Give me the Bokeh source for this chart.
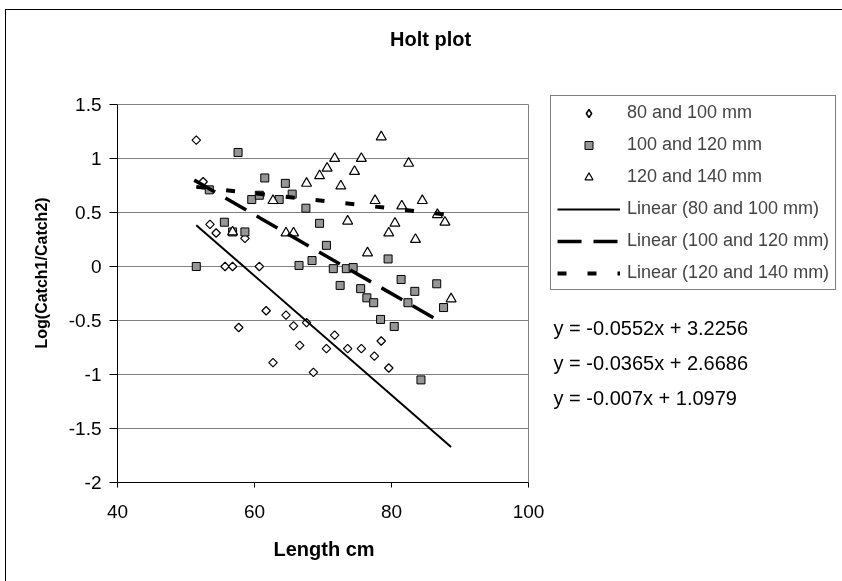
import numpy as np
from bokeh.plotting import figure
from bokeh.models import (Range1d, FixedTicker, CustomJSTickFormatter, Legend,
                          LegendItem, Label, Title)
from bokeh.embed import file_html
from bokeh.resources import INLINE

# ---------------- data ----------------
series_labels = ["80 and 100 mm", "100 and 120 mm", "120 and 140 mm"]

len_80_100 = [51.5, 52.5, 53.5, 54.4, 55.7, 56.8, 58.6, 60.7, 57.7, 61.7, 62.7,
              64.6, 65.7, 66.6, 67.6, 68.6, 70.5, 71.7, 73.6, 75.6, 77.5, 78.5, 79.6]
log_80_100 = [1.17, 0.785, 0.39, 0.31, 0.0, 0.0, 0.26, 0.0, -0.565, -0.41, -0.89,
              -0.45, -0.55, -0.73, -0.52, -0.98, -0.76, -0.635, -0.76, -0.76, -0.83, -0.69, -0.94]

len_100_120 = [51.5, 53.4, 55.6, 56.8, 57.6, 58.6, 59.6, 60.7, 61.5, 63.6, 64.5,
               65.5, 66.5, 67.5, 68.4, 69.5, 70.5, 71.5, 72.5, 73.4, 74.4, 75.5,
               76.4, 77.4, 78.4, 79.5, 80.4, 81.4, 82.4, 83.4, 84.3, 86.6, 87.6]
log_100_120 = [0.0, 0.71, 0.41, 0.32, 1.056, 0.32, 0.62, 0.66, 0.82, 0.62, 0.77,
               0.67, 0.01, 0.54, 0.055, 0.40, 0.196, -0.02, -0.175, -0.02, -0.01, -0.205,
               -0.29, -0.335, -0.49, 0.07, -0.555, -0.12, -0.335, -0.23, -1.05, -0.16, -0.38]

len_120_140 = [56.8, 62.7, 64.6, 65.7, 67.6, 69.5, 70.6, 71.7, 72.6, 73.6, 74.6, 75.6,
               76.5, 77.6, 78.5, 79.6, 80.5, 81.5, 82.5, 83.5, 84.5, 86.7, 87.8, 88.7]
log_120_140 = [0.32, 0.61, 0.31, 0.31, 0.77, 0.84, 0.91, 1.0, 0.745, 0.42, 0.88, 1.0,
               0.126, 0.61, 1.2, 0.31, 0.40, 0.56, 0.955, 0.25, 0.61, 0.48, 0.41, -0.30]

# linear trendlines as printed on the chart
slopes = [-0.0552, -0.0365, -0.007]
intercepts = [3.2256, 2.6686, 1.0979]
trend_x_start = [51.5, 51.2, 51.5]
trend_x_end = [88.7, 87.6, 88.2]
equation_texts = ["y = -0.0552x + 3.2256", "y = -0.0365x + 2.6686", "y = -0.007x + 1.0979"]

x_ticks = [40, 60, 80, 100]
y_ticks = [-2, -1.5, -1, -0.5, 0, 0.5, 1, 1.5]
x_lo, x_hi = 40, 100
y_lo, y_hi = -2, 1.5

FONT = "Liberation Sans"

# The frame extends beyond the plot area (to the right and above) so that the
# legend, the equations and the title, drawn inside it, are not clipped.
# The chart area continues past the window edges, as in the reference.
p = figure(width=850, height=590, output_backend="svg", toolbar_location=None,
           x_range=Range1d(x_lo, 146.42), y_range=Range1d(y_lo, 2.278),
           min_border_left=111, min_border_right=10, min_border_top=10,
           min_border_bottom=118)
p.title.visible = False
p.styles = {"position": "fixed", "left": "6px", "top": "10px",
            "width": "850px", "height": "590px", "overflow": "visible",
            "box-shadow": "-1px -1px 0px 0px #000000"}
p.background_fill_color = "white"
p.border_fill_color = "white"
p.outline_line_color = None
p.xgrid.grid_line_color = None
p.ygrid.grid_line_color = None

fmt = CustomJSTickFormatter(code="return tick.toString();")
for ax, ticks, tout, bnds in ((p.xaxis[0], x_ticks, 5, (x_lo, x_hi)),
                              (p.yaxis[0], y_ticks, 8, (y_lo, y_hi))):
    ax.ticker = FixedTicker(ticks=ticks)
    ax.bounds = bnds
    ax.formatter = fmt
    ax.minor_tick_line_color = None
    ax.major_tick_in = 0
    ax.major_tick_out = tout
    ax.axis_line_color = "black"
    ax.major_tick_line_color = "black"
    ax.major_label_text_font = FONT
    ax.major_label_text_font_size = "19px"
    ax.major_label_text_color = "black"

p.xaxis.major_label_standoff = 17
p.yaxis.major_label_standoff = 8

# axis titles, positioned along the plot area (not the whole frame)
p.add_layout(Title(text="Length cm", align="left", offset=156, standoff=31,
                   text_font=FONT, text_font_size="20px", text_font_style="bold",
                   text_color="black"), "below")
p.add_layout(Title(text="Log(Catch1/Catch2)", align="left", offset=134, standoff=31,
                   text_font=FONT, text_font_size="16px", text_font_style="bold",
                   text_color="black"), "left")

# horizontal gridlines and the plot-area border (top / right), limited to the axes' bounds
grid_levels = [t for t in y_ticks if t > y_lo]
p.segment(x0=[x_lo] * len(grid_levels), x1=[x_hi] * len(grid_levels),
          y0=grid_levels, y1=grid_levels, line_color="#808080", line_width=1)
p.segment(x0=[x_hi], x1=[x_hi], y0=[y_lo], y1=[y_hi], line_color="#808080", line_width=1)

# legend swatch for the diamonds (legend glyphs are drawn unrotated); it sits
# hidden underneath the rotated-square diamonds drawn next
r1_key = p.scatter(len_80_100, log_80_100, marker="diamond", size=5, fill_color="white",
                   line_color="black", line_width=1.5)
# markers
r1 = p.scatter(len_80_100, log_80_100, marker="square", angle=np.pi / 4, size=6,
               fill_color="white", line_color="black", line_width=1.2)
r2 = p.scatter(len_100_120, log_100_120, marker="square", size=8,
               fill_color="#969696", line_color="black", line_width=1)
r3 = p.scatter(len_120_140, log_120_140, marker="triangle", size=10,
               fill_color="white", line_color="black", line_width=1.2)

# trendlines
dashes = ["solid", "24 12", "9 21"]
widths = [2, 3.5, 4]
trend_renderers = []
for m, b, x0, x1, d, w in zip(slopes, intercepts, trend_x_start, trend_x_end, dashes, widths):
    xs = np.array([x0, x1])
    trend_renderers.append(p.line(xs, m * xs + b, line_color="black", line_width=w,
                                  line_dash=d))

items = [LegendItem(label=series_labels[0], renderers=[r1_key]),
         LegendItem(label=series_labels[1], renderers=[r2]),
         LegendItem(label=series_labels[2], renderers=[r3])]
for lab, rr in zip(series_labels, trend_renderers):
    items.append(LegendItem(label="Linear (" + lab + ")", renderers=[rr]))

legend = Legend(items=items, location=(433, 192), padding=6, spacing=11,
                glyph_width=63, glyph_height=20, label_height=20, label_standoff=7,
                label_text_font=FONT, label_text_font_size="18px",
                border_line_color="black", border_line_width=1,
                background_fill_color="white", background_fill_alpha=1, margin=0)
p.add_layout(legend)

# trendline equations
eq_y = [-0.565, -0.889, -1.213]
for t, yy in zip(equation_texts, eq_y):
    p.add_layout(Label(x=103.65, y=yy, text=t, text_font=FONT, text_font_size="20px",
                       text_align="left", text_baseline="middle", text_color="black"))

p.add_layout(Label(x=85.7, y=2.111, text="Holt plot", text_font=FONT, text_font_size="20px",
                   text_font_style="bold", text_align="center", text_baseline="middle",
                   text_color="black"))

open("out.html", "w").write(file_html(p, INLINE))
